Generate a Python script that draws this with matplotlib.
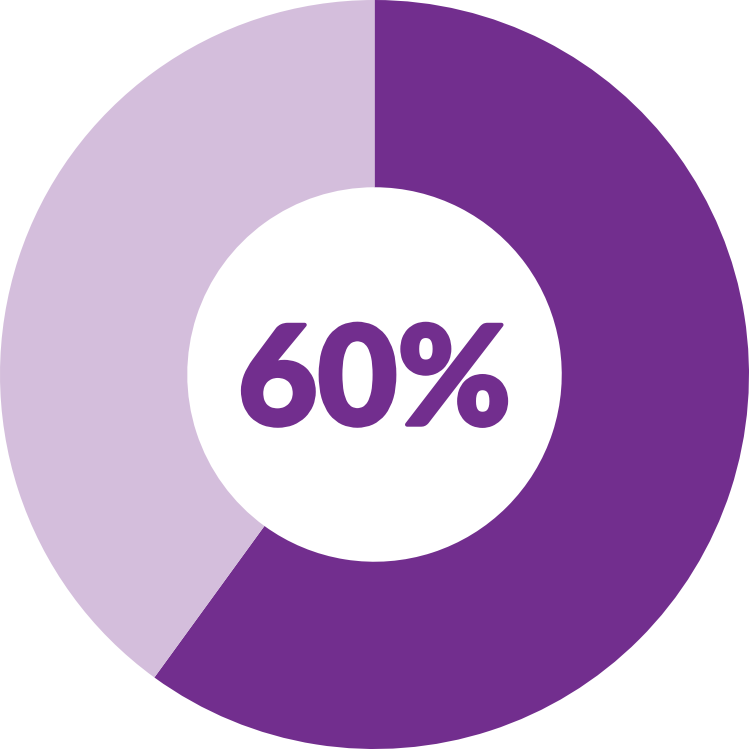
import matplotlib.pyplot as plt
import matplotlib.patheffects as pe

# shares of the donut
labels = ['yes', 'no']
values = [60, 40]
colors = ['#722E8E', '#D4BEDC']
center_text = '60%'

fig = plt.figure(figsize=(7.49, 7.49), dpi=100)
ax = fig.add_axes([0, 0, 1, 1])

ax.pie(values, colors=colors, startangle=90, counterclock=False,
       radius=1.0, wedgeprops=dict(width=0.5, linewidth=0))
# slightly heavier than Lato Black, like the original
ax.text(0, -0.027, center_text, ha='center', va='center', fontsize=99,
        fontweight='black', color=colors[0], family=['Lato', 'DejaVu Sans'],
        path_effects=[pe.withStroke(linewidth=3, foreground=colors[0])])

ax.set_xlim(-1.0, 1.0)
ax.set_ylim(-1.0, 1.0)
ax.set_aspect('equal')
ax.axis('off')

fig.savefig('out.png', dpi=100)
